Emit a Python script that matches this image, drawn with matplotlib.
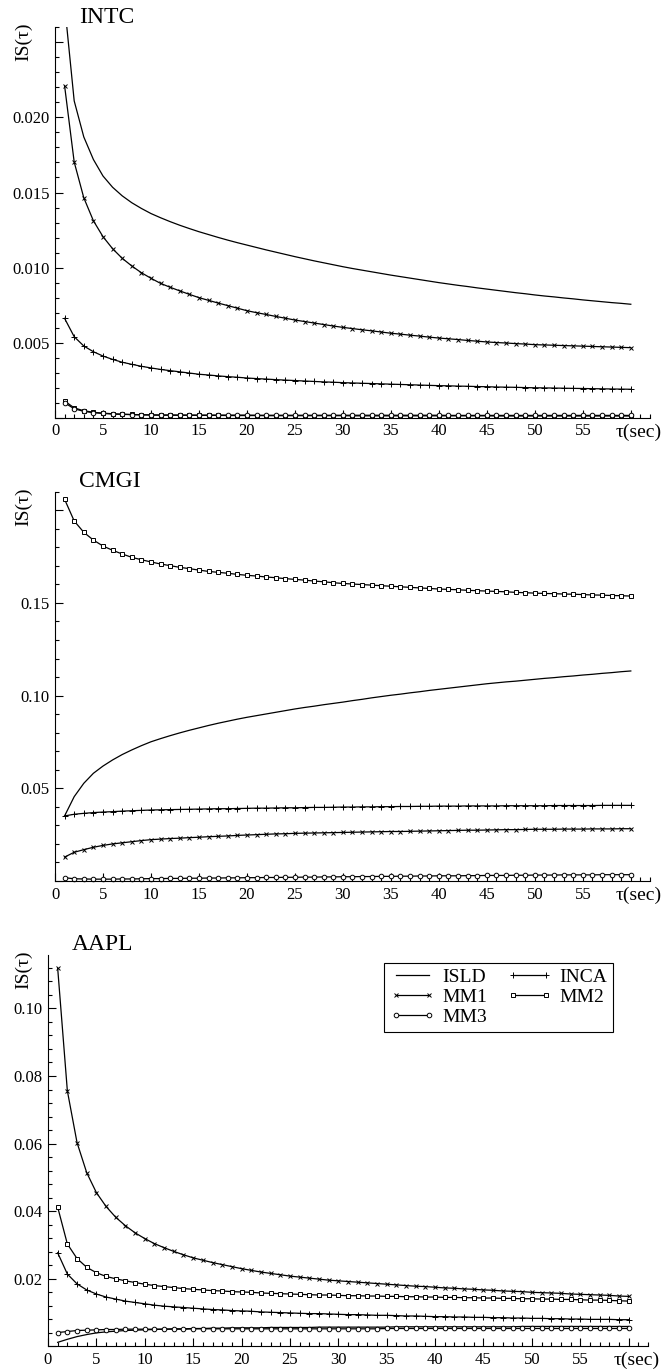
import numpy as np
import matplotlib
matplotlib.use('Agg')
import matplotlib.pyplot as plt
from matplotlib.ticker import MultipleLocator, FuncFormatter

plt.rcParams['font.family'] = ['Liberation Serif', 'DejaVu Serif']

# time lag tau (sec)
tau = np.arange(1, 61)

# ---- INTC ----
intc_isld = [0.0275, 0.0211, 0.0187, 0.01720, 0.01610, 0.01535, 0.01478, 0.01432, 0.01394, 0.01360,
             0.01332, 0.01306, 0.01282, 0.01260, 0.01239, 0.01220, 0.01201, 0.01183, 0.01166, 0.01150,
             0.01134, 0.01118, 0.01103, 0.01088, 0.01073, 0.01059, 0.01045, 0.01032, 0.01019, 0.01006,
             0.00994, 0.00983, 0.00972, 0.00961, 0.00950, 0.00940, 0.00930, 0.00920, 0.00910, 0.00900,
             0.00891, 0.00882, 0.00874, 0.00865, 0.00857, 0.00849, 0.00841, 0.00833, 0.00826, 0.00818,
             0.00811, 0.00805, 0.00798, 0.00792, 0.00785, 0.00779, 0.00773, 0.00767, 0.00762, 0.00756]
intc_mm1 = [0.0221, 0.01703, 0.01465, 0.01312, 0.01206, 0.01126, 0.01062, 0.01011, 0.00966, 0.00929,
            0.00895, 0.00869, 0.00845, 0.00822, 0.00800, 0.00782, 0.00764, 0.00747, 0.00730, 0.00713,
            0.00700, 0.00688, 0.00675, 0.00663, 0.00651, 0.00641, 0.00631, 0.00621, 0.00611, 0.00602,
            0.00594, 0.00586, 0.00579, 0.00571, 0.00563, 0.00557, 0.00550, 0.00544, 0.00537, 0.00531,
            0.00526, 0.00521, 0.00515, 0.00510, 0.00505, 0.00501, 0.00498, 0.00494, 0.00491, 0.00487,
            0.00485, 0.00483, 0.00481, 0.00479, 0.00477, 0.00475, 0.00473, 0.00471, 0.00469, 0.00467]
intc_inca = [0.00662, 0.00540, 0.00478, 0.00440, 0.00411, 0.00389, 0.00370, 0.00356, 0.00343, 0.00332,
             0.00322, 0.00314, 0.00306, 0.00298, 0.00290, 0.00285, 0.00279, 0.00274, 0.00270, 0.00265,
             0.00261, 0.00258, 0.00254, 0.00251, 0.00248, 0.00245, 0.00242, 0.00239, 0.00237, 0.00234,
             0.00232, 0.00230, 0.00228, 0.00226, 0.00224, 0.00222, 0.00220, 0.00218, 0.00216, 0.00214,
             0.00213, 0.00211, 0.00210, 0.00208, 0.00207, 0.00205, 0.00204, 0.00203, 0.00201, 0.00200,
             0.00199, 0.00198, 0.00197, 0.00196, 0.00195, 0.00194, 0.00193, 0.00192, 0.00191, 0.00190]
intc_mm2 = [0.00112, 0.00066, 0.00047, 0.00037, 0.00031, 0.00027, 0.00024, 0.00022, 0.00020, 0.00019,
            0.00018, 0.00018, 0.00017, 0.00017, 0.00016, 0.00016, 0.00016, 0.00015, 0.00015, 0.00015,
            0.00015, 0.00014, 0.00014, 0.00014, 0.00014, 0.00014, 0.00014, 0.00014, 0.00014, 0.00014,
            0.00013, 0.00013, 0.00013, 0.00013, 0.00013, 0.00013, 0.00013, 0.00013, 0.00013, 0.00013,
            0.00013, 0.00013, 0.00013, 0.00013, 0.00013, 0.00012, 0.00012, 0.00012, 0.00012, 0.00012,
            0.00012, 0.00012, 0.00012, 0.00012, 0.00012, 0.00012, 0.00012, 0.00012, 0.00012, 0.00012]
intc_mm3 = [0.00100, 0.00060, 0.00043, 0.00034, 0.00029, 0.00025, 0.00023, 0.00021, 0.00020, 0.00019,
            0.00018, 0.00018, 0.00018, 0.00018, 0.00018, 0.00018, 0.00018, 0.00018, 0.00018, 0.00018,
            0.00017, 0.00017, 0.00017, 0.00017, 0.00017, 0.00017, 0.00017, 0.00017, 0.00017, 0.00017,
            0.00017, 0.00017, 0.00017, 0.00017, 0.00017, 0.00017, 0.00017, 0.00017, 0.00017, 0.00017,
            0.00016, 0.00016, 0.00016, 0.00016, 0.00016, 0.00016, 0.00016, 0.00016, 0.00016, 0.00016,
            0.00016, 0.00016, 0.00016, 0.00016, 0.00016, 0.00016, 0.00016, 0.00016, 0.00016, 0.00016]

# ---- CMGI ----
cmgi_isld = [0.0351, 0.0455, 0.0527, 0.0581, 0.0620, 0.0653, 0.0682, 0.0707, 0.0730, 0.0751,
             0.0768, 0.0784, 0.0799, 0.0813, 0.0826, 0.0839, 0.0851, 0.0862, 0.0873, 0.0883,
             0.0892, 0.0901, 0.0910, 0.0919, 0.0928, 0.0936, 0.0943, 0.0951, 0.0958, 0.0965,
             0.0973, 0.0980, 0.0988, 0.0995, 0.1002, 0.1008, 0.1015, 0.1021, 0.1028, 0.1034,
             0.1040, 0.1046, 0.1052, 0.1058, 0.1064, 0.1069, 0.1074, 0.1078, 0.1083, 0.1088,
             0.1093, 0.1097, 0.1102, 0.1106, 0.1111, 0.1115, 0.1120, 0.1124, 0.1129, 0.1133]
cmgi_inca = [0.0351, 0.0360, 0.0365, 0.0369, 0.0372, 0.0374, 0.0377, 0.0379, 0.0381, 0.0383,
             0.0384, 0.0385, 0.0386, 0.0387, 0.0388, 0.0389, 0.0390, 0.0390, 0.0391, 0.0392,
             0.0393, 0.0393, 0.0394, 0.0395, 0.0395, 0.0396, 0.0397, 0.0397, 0.0398, 0.0399,
             0.0399, 0.0400, 0.0400, 0.0401, 0.0401, 0.0402, 0.0402, 0.0403, 0.0403, 0.0404,
             0.0404, 0.0404, 0.0405, 0.0405, 0.0405, 0.0405, 0.0406, 0.0406, 0.0406, 0.0406,
             0.0406, 0.0407, 0.0407, 0.0407, 0.0407, 0.0407, 0.0408, 0.0408, 0.0408, 0.0408]
cmgi_mm1 = [0.0129, 0.0155, 0.0169, 0.0182, 0.0192, 0.0200, 0.0206, 0.0212, 0.0218, 0.0223,
            0.0226, 0.0229, 0.0231, 0.0234, 0.0236, 0.0239, 0.0241, 0.0243, 0.0246, 0.0248,
            0.0250, 0.0252, 0.0254, 0.0255, 0.0257, 0.0258, 0.0259, 0.0260, 0.0261, 0.0262,
            0.0263, 0.0264, 0.0265, 0.0266, 0.0267, 0.0267, 0.0268, 0.0269, 0.0270, 0.0271,
            0.0272, 0.0273, 0.0274, 0.0274, 0.0275, 0.0276, 0.0277, 0.0277, 0.0278, 0.0279,
            0.0279, 0.0279, 0.0280, 0.0280, 0.0280, 0.0281, 0.0281, 0.0281, 0.0282, 0.0282]
cmgi_mm2 = [0.2059, 0.1942, 0.1881, 0.1839, 0.1807, 0.1784, 0.1764, 0.1746, 0.1733, 0.1721,
            0.1710, 0.1701, 0.1692, 0.1685, 0.1677, 0.1670, 0.1665, 0.1660, 0.1654, 0.1649,
            0.1645, 0.1640, 0.1636, 0.1631, 0.1627, 0.1623, 0.1618, 0.1614, 0.1609, 0.1605,
            0.1602, 0.1599, 0.1596, 0.1593, 0.1590, 0.1587, 0.1584, 0.1581, 0.1578, 0.1575,
            0.1573, 0.1571, 0.1568, 0.1566, 0.1564, 0.1562, 0.1560, 0.1557, 0.1555, 0.1553,
            0.1551, 0.1550, 0.1548, 0.1547, 0.1545, 0.1543, 0.1542, 0.1540, 0.1539, 0.1537]
cmgi_mm3 = [0.0018, 0.0012, 0.0011, 0.0010, 0.0010, 0.0010, 0.0011, 0.0011, 0.0012, 0.0013,
            0.0013, 0.0014, 0.0014, 0.0015, 0.0015, 0.0016, 0.0016, 0.0017, 0.0017, 0.0018,
            0.0018, 0.0019, 0.0019, 0.0020, 0.0020, 0.0021, 0.0021, 0.0022, 0.0022, 0.0023,
            0.0023, 0.0024, 0.0024, 0.0025, 0.0025, 0.0026, 0.0026, 0.0027, 0.0027, 0.0028,
            0.0028, 0.0028, 0.0029, 0.0029, 0.0030, 0.0030, 0.0030, 0.0031, 0.0031, 0.0032,
            0.0032, 0.0032, 0.0033, 0.0033, 0.0033, 0.0033, 0.0034, 0.0034, 0.0034, 0.0034]

# ---- AAPL ----
aapl_isld = [0.0012, 0.0021, 0.0029, 0.0035, 0.0040, 0.0043, 0.0045, 0.0047, 0.0048, 0.0049,
             0.0050, 0.0051, 0.0052, 0.0052, 0.0053, 0.0053, 0.0054, 0.0054, 0.0055, 0.0055,
             0.0055, 0.0055, 0.0056, 0.0056, 0.0056, 0.0056, 0.0056, 0.0057, 0.0057, 0.0057,
             0.0057, 0.0057, 0.0057, 0.0057, 0.0057, 0.0058, 0.0058, 0.0058, 0.0058, 0.0058,
             0.0058, 0.0058, 0.0058, 0.0058, 0.0058, 0.0058, 0.0058, 0.0058, 0.0059, 0.0059,
             0.0059, 0.0059, 0.0059, 0.0059, 0.0059, 0.0059, 0.0059, 0.0059, 0.0059, 0.0059]
aapl_mm1 = [0.1119, 0.0756, 0.0603, 0.0514, 0.0455, 0.0414, 0.0382, 0.0357, 0.0336, 0.0319,
            0.0304, 0.0292, 0.0281, 0.0271, 0.0262, 0.0255, 0.0248, 0.0242, 0.0236, 0.0230,
            0.0225, 0.0220, 0.0216, 0.0212, 0.0208, 0.0205, 0.0202, 0.0199, 0.0196, 0.0194,
            0.0192, 0.0190, 0.0188, 0.0186, 0.0184, 0.0182, 0.0180, 0.0178, 0.0177, 0.0175,
            0.0173, 0.0172, 0.0170, 0.0169, 0.0167, 0.0166, 0.0164, 0.0163, 0.0162, 0.0160,
            0.0159, 0.0158, 0.0157, 0.0155, 0.0154, 0.0153, 0.0152, 0.0151, 0.0149, 0.0148]
aapl_inca = [0.0277, 0.0214, 0.0185, 0.0167, 0.0155, 0.0146, 0.0140, 0.0134, 0.0130, 0.0126,
             0.0122, 0.0119, 0.0117, 0.0115, 0.0113, 0.0111, 0.0109, 0.0108, 0.0106, 0.0105,
             0.0104, 0.0102, 0.0101, 0.0100, 0.0099, 0.0098, 0.0097, 0.0097, 0.0096, 0.0095,
             0.0094, 0.0094, 0.0093, 0.0092, 0.0092, 0.0091, 0.0090, 0.0090, 0.0089, 0.0088,
             0.0088, 0.0087, 0.0087, 0.0086, 0.0086, 0.0085, 0.0085, 0.0084, 0.0084, 0.0083,
             0.0083, 0.0082, 0.0082, 0.0081, 0.0081, 0.0080, 0.0080, 0.0080, 0.0079, 0.0079]
aapl_mm2 = [0.0412, 0.0303, 0.0260, 0.0234, 0.0218, 0.0207, 0.0200, 0.0194, 0.0189, 0.0184,
            0.0180, 0.0177, 0.0174, 0.0171, 0.0169, 0.0167, 0.0165, 0.0164, 0.0162, 0.0161,
            0.0160, 0.0158, 0.0157, 0.0156, 0.0155, 0.0154, 0.0153, 0.0152, 0.0152, 0.0151,
            0.0150, 0.0150, 0.0149, 0.0149, 0.0148, 0.0148, 0.0147, 0.0147, 0.0146, 0.0146,
            0.0145, 0.0145, 0.0144, 0.0144, 0.0143, 0.0143, 0.0142, 0.0142, 0.0141, 0.0141,
            0.0140, 0.0140, 0.0139, 0.0139, 0.0138, 0.0137, 0.0137, 0.0136, 0.0135, 0.0134]
aapl_mm3 = [0.0041, 0.0044, 0.0047, 0.0048, 0.0049, 0.0050, 0.0050, 0.0051, 0.0051, 0.0051,
            0.0051, 0.0051, 0.0051, 0.0051, 0.0052, 0.0052, 0.0052, 0.0052, 0.0052, 0.0052,
            0.0052, 0.0052, 0.0052, 0.0052, 0.0052, 0.0052, 0.0052, 0.0052, 0.0052, 0.0052,
            0.0052, 0.0052, 0.0052, 0.0052, 0.0053, 0.0053, 0.0053, 0.0053, 0.0053, 0.0053,
            0.0053, 0.0053, 0.0053, 0.0053, 0.0053, 0.0053, 0.0053, 0.0053, 0.0053, 0.0053,
            0.0053, 0.0053, 0.0053, 0.0053, 0.0053, 0.0053, 0.0053, 0.0053, 0.0053, 0.0053]

# line style per series
styles = {
    'ISLD': dict(marker=None),
    'INCA': dict(marker='+', ms=4.5, mew=0.7),
    'MM1': dict(marker='x', ms=3.2, mew=0.7),
    'MM2': dict(marker='s', ms=3.3, mew=0.7, mfc='white'),
    'MM3': dict(marker='o', ms=3.3, mew=0.7, mfc='white'),
}
legend_order = ['ISLD', 'MM1', 'MM3', 'INCA', 'MM2']

# panel: title, series, y top, major step, minor step, last labelled tick, format, rect
panels = [
    ('INTC', {'ISLD': intc_isld, 'INCA': intc_inca, 'MM1': intc_mm1, 'MM2': intc_mm2, 'MM3': intc_mm3},
     0.026, 0.005, 0.001, 0.020, '%.3f', [55 / 665., 1 - 417.8 / 1372., 595 / 665., 390.5 / 1372.]),
    ('CMGI', {'ISLD': cmgi_isld, 'INCA': cmgi_inca, 'MM1': cmgi_mm1, 'MM2': cmgi_mm2, 'MM3': cmgi_mm3},
     0.21, 0.05, 0.01, 0.15, '%.2f', [55 / 665., 1 - 881.0 / 1372., 595 / 665., 389.3 / 1372.]),
    ('AAPL', {'ISLD': aapl_isld, 'INCA': aapl_inca, 'MM1': aapl_mm1, 'MM2': aapl_mm2, 'MM3': aapl_mm3},
     0.1158, 0.02, 0.004, 0.10, '%.2f', [48 / 665., 1 - 1346.4 / 1372., 600 / 665., 391.4 / 1372.]),
]

fig = plt.figure(figsize=(6.65, 13.72), dpi=100)

for title, data, ytop, major, minor, last, fmt, rect in panels:
    ax = fig.add_axes(rect)
    handles = {}
    for name in ['ISLD', 'INCA', 'MM1', 'MM2', 'MM3']:
        line, = ax.plot(tau, data[name], color='black', lw=0.9, label=name,
                        clip_on=(name == 'ISLD'), **styles[name])
        handles[name] = line

    ax.set_xlim(0, 62)
    ax.set_ylim(0, ytop)
    for s in ['top', 'right']:
        ax.spines[s].set_visible(False)
    for s in ['left', 'bottom']:
        ax.spines[s].set_linewidth(0.8)

    ax.xaxis.set_major_locator(MultipleLocator(5))
    ax.xaxis.set_minor_locator(MultipleLocator(1))
    ax.yaxis.set_major_locator(MultipleLocator(major))
    ax.yaxis.set_minor_locator(MultipleLocator(minor))
    ax.xaxis.set_major_formatter(FuncFormatter(lambda v, p: '' if v > 57 else '%d' % v))
    ax.yaxis.set_major_formatter(FuncFormatter(
        lambda v, p, fmt=fmt, last=last: fmt % v if (v > 1e-9 and v < last + 1e-9) else ''))
    ax.tick_params(which='both', direction='in', labelsize=12, width=0.8, pad=4)
    ax.tick_params(which='major', length=6)
    ax.tick_params(which='minor', length=3)

    # tau(sec) in place of last tick label
    ax.annotate('\u03c4(sec)', xy=(60.8, 0), xycoords=('data', 'axes fraction'),
                xytext=(0, -4), textcoords='offset points', ha='center', va='top',
                fontsize=14, annotation_clip=False)
    # panel title
    ax.annotate(title, xy=(0, 1), xycoords='axes fraction', xytext=(17, 3.3),
                textcoords='offset points', ha='left', va='baseline', fontsize=17)
    # y label
    top_px = (1 - (rect[1] + rect[3])) * 1372 - 4.5
    fig.text(23.5 / 665., 1 - top_px / 1372., 'IS(\u03c4)', rotation=90,
             ha='center', va='top', fontsize=14)

    if title == 'AAPL':
        leg = ax.legend([handles[n] for n in legend_order], legend_order, ncol=2,
                        loc='upper right', bbox_to_anchor=(0.942, 0.98), borderaxespad=0,
                        fontsize=14, numpoints=2, handlelength=2.3, handletextpad=0.4,
                        columnspacing=1.0, labelspacing=0.12, borderpad=0.3,
                        fancybox=False, framealpha=1)
        leg.get_frame().set_edgecolor('black')
        leg.get_frame().set_linewidth(0.8)

plt.savefig('out.png', dpi=100)
